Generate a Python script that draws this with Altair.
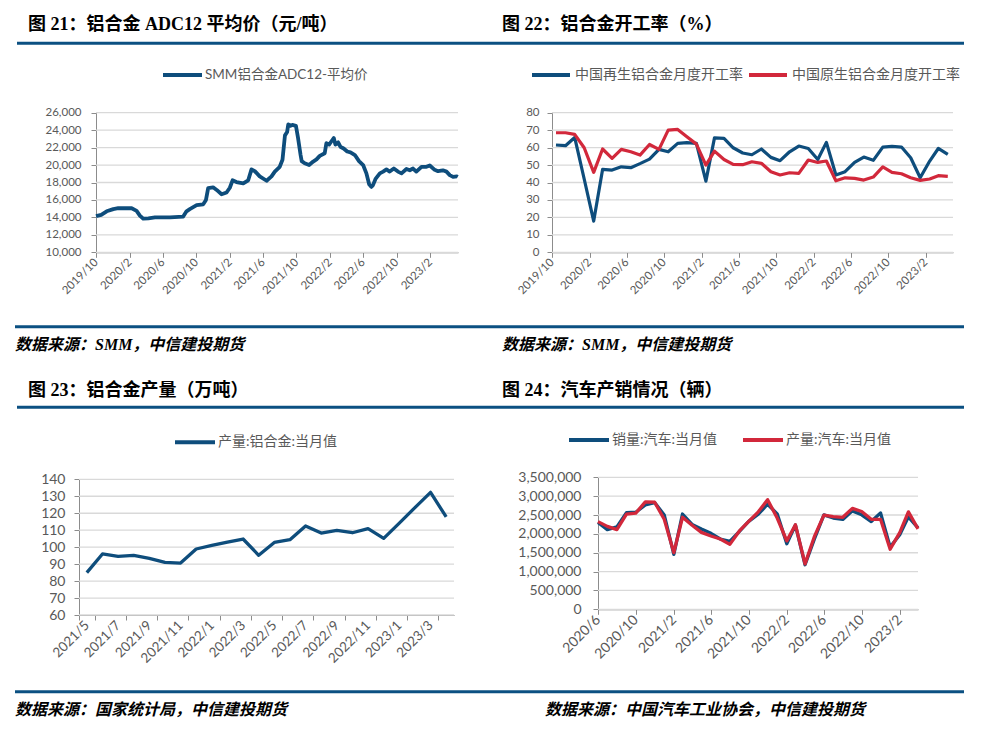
import altair as alt
import pandas as pd

# ---------------- colours / fonts ----------------
BLUE = "#0E4D7C"
RED = "#D2283B"
RULE = "#0B5082"
GRID = "#D9D9D9"
AXIS = "#8C8C8C"
LABEL = "#595959"
SANS = "Lato, 'Noto Sans CJK SC', sans-serif"
SERIF = "'Liberation Serif', 'Noto Sans CJK SC', serif"

# ---------------- data: panel 21 (ADC12 price, yuan/t) ----------------
adc12_dates = [
    "2019/10/01", "2019/10/20", "2019/11/09", "2019/12/03", "2019/12/21", "2020/02/08",
    "2020/02/26", "2020/03/09", "2020/03/21", "2020/04/09", "2020/05/03", "2020/06/27",
    "2020/08/14", "2020/08/26", "2020/09/07", "2020/10/02", "2020/10/26", "2020/11/05",
    "2020/11/13", "2020/12/01", "2020/12/14", "2021/01/01", "2021/01/19", "2021/01/31",
    "2021/02/10", "2021/02/24", "2021/03/21", "2021/04/08", "2021/04/20", "2021/05/02",
    "2021/05/20", "2021/06/14", "2021/07/02", "2021/07/14", "2021/08/01", "2021/08/11",
    "2021/08/20", "2021/08/28", "2021/09/01", "2021/09/09", "2021/09/16", "2021/09/29",
    "2021/10/07", "2021/10/16", "2021/10/20", "2021/10/31", "2021/11/16", "2021/12/01",
    "2021/12/13", "2021/12/25", "2022/01/12", "2022/01/18", "2022/01/28", "2022/02/05",
    "2022/02/14", "2022/02/20", "2022/03/02", "2022/03/10", "2022/03/22", "2022/04/04",
    "2022/04/16", "2022/05/02", "2022/05/17", "2022/06/01", "2022/06/13", "2022/06/23",
    "2022/07/01", "2022/07/07", "2022/07/17", "2022/08/01", "2022/08/13", "2022/08/25",
    "2022/09/06", "2022/09/21", "2022/10/06", "2022/10/19", "2022/11/06", "2022/11/18",
    "2022/11/30", "2022/12/12", "2022/12/31", "2023/01/18", "2023/01/30", "2023/02/17",
    "2023/03/01", "2023/03/19", "2023/04/01", "2023/04/13", "2023/04/25", "2023/05/09",
    "2023/05/12",
]
adc12_price = [
    14150, 14300, 14700, 14950, 15050, 15050,
    14750, 14200, 13850, 13900, 14000, 14000,
    14100, 14700, 14950, 15400, 15500, 16000,
    17350, 17450, 17150, 16650, 16850, 17400,
    18250, 18050, 17900, 18250, 19500, 19300,
    18700, 18200, 18700, 19250, 19800, 20600,
    23400, 23800, 24650, 24500, 24600, 24500,
    23050, 21150, 20450, 20200, 20000, 20400,
    20650, 21050, 21350, 22500, 22350, 22700,
    23100, 22350, 22600, 22100, 21900, 21550,
    21450, 21150, 20450, 20000, 19050, 17800,
    17500, 17700, 18450, 19050, 19250, 19500,
    19250, 19600, 19250, 19050, 19550, 19400,
    19600, 19250, 19800, 19800, 19950, 19450,
    19300, 19400, 19250, 18850, 18650, 18700,
    18650,
]

# ---------------- data: panel 22 (operating rates, %) ----------------
rate_months = [d.strftime("%Y/%m/14") for d in pd.date_range("2019-10-01", periods=43, freq="MS")]
rate_secondary = [
    61.5, 61.1, 65.8, 42.0, 17.9, 47.5, 47.1, 49.0, 48.5, 50.8, 53.4, 59.0, 57.6, 62.4, 62.8,
    62.4, 40.8, 65.6, 65.3, 59.9, 56.9, 55.9, 59.2, 54.4, 52.5, 57.6, 60.9, 59.5, 53.2, 63.0,
    44.3, 46.2, 51.5, 54.6, 52.7, 60.3, 60.7, 60.3, 54.2, 42.7, 52.3, 59.5, 56.1,
]
rate_primary = [
    68.5, 68.5, 67.6, 59.9, 45.8, 59.2, 53.8, 59.0, 57.6, 55.7, 61.8, 59.0, 70.0, 70.4, 66.2,
    62.0, 50.0, 58.0, 53.2, 50.4, 50.2, 51.9, 51.0, 46.2, 44.3, 45.6, 45.2, 52.9, 51.5, 52.3,
    41.0, 42.7, 42.4, 41.4, 43.1, 48.9, 45.8, 45.0, 42.7, 41.2, 42.0, 43.9, 43.5,
]

# ---------------- data: panel 23 (alloy output, 10k t) ----------------
output_months = [f"{d.year}/{d.month}" for d in pd.date_range("2021-05-01", periods=24, freq="MS")]
output_values = [
    85.0, 96.0, 94.6, 95.1, 93.4, 91.0, 90.6, 98.9, 101.0, 103.0, 104.8, 95.2,
    102.8, 104.4, 112.5, 108.3, 109.9, 108.5, 110.9, 105.2, 114.2, 123.3, 132.3, 117.8,
]
output_ticks = output_months[::2]

# ---------------- data: panel 24 (vehicles) ----------------
car_months = [d.strftime("%Y/%m/01") for d in pd.date_range("2020-06-01", periods=35, freq="MS")]
car_sales = [
    2300000, 2112000, 2186000, 2565000, 2573000, 2766000, 2831000, 2503000, 1455000, 2526000,
    2252000, 2128000, 2015000, 1864000, 1799000, 2067000, 2332000, 2522000, 2786000, 2531000,
    1737000, 2234000, 1181000, 1862000, 2502000, 2420000, 2383000, 2610000, 2505000, 2326000,
    2556000, 1649000, 1976000, 2451000, 2159000,
]
car_production = [
    2325000, 2199000, 2113000, 2521000, 2551000, 2847000, 2840000, 2388000, 1503000, 2440000,
    2229000, 2040000, 1943000, 1863000, 1722000, 2077000, 2331000, 2585000, 2907000, 2421000,
    1814000, 2241000, 1205000, 1926000, 2499000, 2455000, 2439000, 2675000, 2593000, 2388000,
    2386000, 1594000, 2032000, 2584000, 2133000,
]

# ---------------- texts ----------------
titles = ["图 21：铝合金 ADC12 平均价（元/吨）", "图 22：铝合金开工率（%）",
          "图 23：铝合金产量（万吨）", "图 24：汽车产销情况（辆）"]
sources = ["数据来源：SMM，中信建投期货", "数据来源：SMM，中信建投期货",
           "数据来源：国家统计局，中信建投期货", "数据来源：中国汽车工业协会，中信建投期货"]
legend_adc12 = "SMM铝合金ADC12-平均价"
legend_rates = ["中国再生铝合金月度开工率", "中国原生铝合金月度开工率"]
legend_output = "产量:铝合金:当月值"
legend_cars = ["销量:汽车:当月值", "产量:汽车:当月值"]

W, H = 978, 720


def dt(y, m, d=1):
    return alt.DateTime(year=y, month=m, date=d)


def txt(s, x, y, size, font=SANS, weight="normal", style="normal", color=LABEL):
    return alt.Chart(pd.DataFrame({"t": [s]})).mark_text(
        align="left", baseline="middle", font=font, fontSize=size,
        fontWeight=weight, fontStyle=style, color=color,
    ).encode(x=alt.value(x), y=alt.value(y), text="t:N")


def hrule(x1, x2, y, color, width):
    return alt.Chart(pd.DataFrame({"a": [0]})).mark_rule(color=color, strokeWidth=width).encode(
        x=alt.value(x1), x2=alt.value(x2), y=alt.value(y))


def xaxis(offset, values, size, fmt=True):
    kw = dict(orient="bottom", offset=offset, values=values, labelAngle=-45, labelAlign="right",
              labelBaseline="middle", labelFontSize=size, labelFont=SANS, labelColor=LABEL,
              labelPadding=3, tickSize=5, tickColor=AXIS, domainColor=AXIS, grid=False,
              labelOverlap=False, labelFlush=False)
    if fmt:
        kw["labelExpr"] = "timeFormat(datum.value, '%Y/%-m')"
    return alt.Axis(**kw)


def yaxis(offset, values, size, fmt, pad=8):
    return alt.Axis(orient="left", offset=offset, values=values, format=fmt, labelFontSize=size,
                    labelFont=SANS, labelColor=LABEL, labelPadding=pad, tickSize=5, tickColor=AXIS,
                    domainColor=AXIS, grid=False)


def grid_layer(vals, yscale, yax, x1, x2):
    return alt.Chart(pd.DataFrame({"g": vals})).mark_rule(color=GRID, strokeWidth=1.3).encode(
        y=alt.Y("g:Q", scale=yscale, axis=yax, title=None), x=alt.value(x1), x2=alt.value(x2))


# ---------------- panel 21 ----------------
p1_ticks_y = list(range(10000, 26001, 2000))
p1_ticks_x = [dt(2019, 10)] + [dt(y, m) for y in (2020, 2021, 2022) for m in (2, 6, 10)] + [dt(2023, 2)]
p1_ys = alt.Scale(domain=[10000, 26000], range=[244.3, 104.7], nice=False, zero=False)
p1_ya = yaxis(-88, p1_ticks_y, 11.5, ",.0f", 10)
p1_xs = alt.Scale(domain=[dt(2019, 10, 1), dt(2023, 5, 13)], range=[88, 450], nice=False)
p1_line = alt.Chart(pd.DataFrame({"date": adc12_dates, "v": adc12_price})).mark_line(
    color=BLUE, strokeWidth=3.8, strokeJoin="round").encode(
    x=alt.X("date:T", scale=p1_xs, axis=xaxis(-475.7, p1_ticks_x, 11.5), title=None),
    y=alt.Y("v:Q", scale=p1_ys, axis=p1_ya, title=None))
panel1 = alt.layer(grid_layer(p1_ticks_y, p1_ys, p1_ya, 88, 450), p1_line)

# ---------------- panel 22 ----------------
p2_ticks_y = list(range(0, 81, 10))
p2_ticks_x = [dt(2019, 10)] + [dt(y, m) for y in (2020, 2021, 2022) for m in (2, 6, 10)] + [dt(2023, 2)]
p2_ys = alt.Scale(domain=[0, 80], range=[244.3, 104.7], nice=False, zero=False)
p2_ya = yaxis(-544, p2_ticks_y, 11.5, ".0f")
p2_xs = alt.Scale(domain=[dt(2019, 10, 1), dt(2023, 5, 1)], range=[544, 945], nice=False)
p2_xa = xaxis(-475.7, p2_ticks_x, 11.5)
df2 = pd.DataFrame({"date": rate_months, "sec": rate_secondary, "pri": rate_primary})
p2_blue = alt.Chart(df2).mark_line(color=BLUE, strokeWidth=3.2, strokeJoin="round").encode(
    x=alt.X("date:T", scale=p2_xs, axis=p2_xa, title=None),
    y=alt.Y("sec:Q", scale=p2_ys, axis=p2_ya, title=None))
p2_red = alt.Chart(df2).mark_line(color=RED, strokeWidth=3.2, strokeJoin="round").encode(
    x=alt.X("date:T", scale=p2_xs, axis=p2_xa, title=None),
    y=alt.Y("pri:Q", scale=p2_ys, axis=p2_ya, title=None))
panel2 = alt.layer(grid_layer(p2_ticks_y, p2_ys, p2_ya, 544, 945), p2_blue, p2_red)

# ---------------- panel 23 ----------------
p3_ticks_y = list(range(60, 141, 10))
p3_ys = alt.Scale(domain=[60, 140], range=[607, 471.3], nice=False, zero=False)
p3_ya = yaxis(-71, p3_ticks_y, 14, ".0f", 9)
p3_xs = alt.Scale(type="band", domain=output_months, range=[71, 446], paddingInner=0, paddingOuter=0)
p3_xa = alt.Axis(orient="bottom", offset=-113, values=output_ticks, labelAngle=-45, labelAlign="right",
                 labelBaseline="middle", labelFontSize=13.5, labelFont=SANS, labelColor=LABEL,
                 labelPadding=3, tickSize=5, tickColor=AXIS, domainColor=AXIS, grid=False,
                 tickBand="extent", labelOverlap=False)
p3_line = alt.Chart(pd.DataFrame({"m": output_months, "v": output_values})).mark_line(
    color=BLUE, strokeWidth=3.3, strokeJoin="round").encode(
    x=alt.X("m:N", scale=p3_xs, axis=p3_xa, title=None, sort=None),
    y=alt.Y("v:Q", scale=p3_ys, axis=p3_ya, title=None))
panel3 = alt.layer(grid_layer(p3_ticks_y, p3_ys, p3_ya, 71, 446), p3_line)

# ---------------- panel 24 ----------------
p4_ticks_y = list(range(0, 3500001, 500000))
p4_ticks_x = [dt(2020, 6), dt(2020, 10)] + [dt(y, m) for y in (2021, 2022) for m in (2, 6, 10)] + [dt(2023, 2)]
p4_ys = alt.Scale(domain=[0, 3500000], range=[601.3, 469.3], nice=False, zero=False)
p4_ya = yaxis(-590, p4_ticks_y, 14, ",.0f", 12)
p4_xs = alt.Scale(domain=[dt(2020, 6, 1), dt(2023, 4, 1)], range=[590, 910], nice=False)
p4_xa = xaxis(-118.7, p4_ticks_x, 14)
df4 = pd.DataFrame({"date": car_months, "sales": car_sales, "prod": car_production})
p4_blue = alt.Chart(df4).mark_line(color=BLUE, strokeWidth=3.3, strokeJoin="round").encode(
    x=alt.X("date:T", scale=p4_xs, axis=p4_xa, title=None),
    y=alt.Y("sales:Q", scale=p4_ys, axis=p4_ya, title=None))
p4_red = alt.Chart(df4).mark_line(color=RED, strokeWidth=3.3, strokeJoin="round").encode(
    x=alt.X("date:T", scale=p4_xs, axis=p4_xa, title=None),
    y=alt.Y("prod:Q", scale=p4_ys, axis=p4_ya, title=None))
panel4 = alt.layer(grid_layer(p4_ticks_y, p4_ys, p4_ya, 590, 910), p4_blue, p4_red)

# ---------------- decorations ----------------
deco = [
    # titles
    txt(titles[0], 20, 17, 18, SERIF, "bold", color="#000000"),
    txt(titles[1], 494, 17, 18, SERIF, "bold", color="#000000"),
    txt(titles[2], 20, 382.7, 18, SERIF, "bold", color="#000000"),
    txt(titles[3], 494, 382.7, 18, SERIF, "bold", color="#000000"),
    # title rules
    hrule(9, 489, 35.3, RULE, 3), hrule(489, 956, 35.3, RULE, 3),
    hrule(9, 489, 399.3, RULE, 3), hrule(489, 956, 399.3, RULE, 3),
    # bottom rules
    hrule(7, 489, 318.7, RULE, 3), hrule(489, 956, 318.7, RULE, 3),
    hrule(7, 489, 683.7, RULE, 3), hrule(489, 956, 683.7, RULE, 3),
    # sources
    txt(sources[0], 7, 337, 16, SERIF, "bold", "italic", "#000000"),
    txt(sources[1], 494, 337, 16, SERIF, "bold", "italic", "#000000"),
    txt(sources[2], 7, 702, 16, SERIF, "bold", "italic", "#000000"),
    txt(sources[3], 537, 702, 16, SERIF, "bold", "italic", "#000000"),
    # legends
    hrule(155, 194, 67, BLUE, 4), txt(legend_adc12, 197, 67, 13.5),
    hrule(524, 562, 67, BLUE, 4), txt(legend_rates[0], 567, 67, 14),
    hrule(741, 779, 67, RED, 4), txt(legend_rates[1], 784, 67, 14),
    hrule(167, 207, 434.3, BLUE, 4), txt(legend_output, 210, 434.3, 14),
    hrule(561, 601, 432, BLUE, 4), txt(legend_cars[0], 604, 432, 14),
    hrule(735, 775, 432, RED, 4), txt(legend_cars[1], 778, 432, 14),
]

chart = alt.layer(panel1, panel2, panel3, panel4, *deco).resolve_scale(
    x="independent", y="independent").resolve_axis(
    x="independent", y="independent").properties(
    width=W, height=H, padding=0, autosize=alt.AutoSizeParams(type="none")
).configure_view(stroke="transparent")

chart.save("out.html", embed_options={"renderer": "svg", "actions": False})
